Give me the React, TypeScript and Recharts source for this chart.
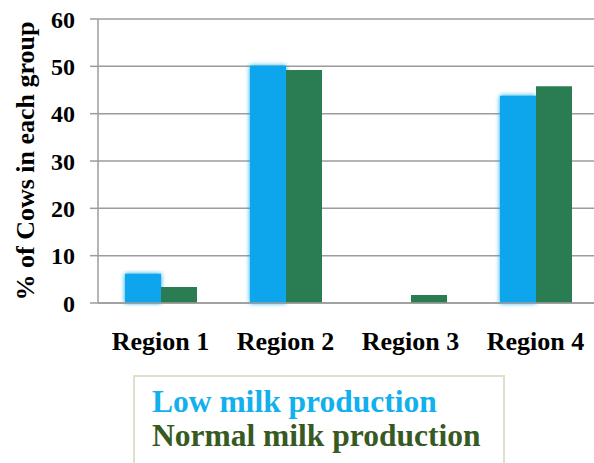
import { BarChart, Bar, XAxis, YAxis, CartesianGrid, Legend } from 'recharts'

const regions = ['Region 1', 'Region 2', 'Region 3', 'Region 4']
const lowMilk = [6.2, 50.1, 0, 43.8]
const normalMilk = [3.4, 49.2, 1.7, 45.8]
const yTicks = [0, 10, 20, 30, 40, 50, 60]

const seriesNames = ['Low milk production', 'Normal milk production']
const barColors = ['#08a6ec', '#2a7d52']
const legendColors = ['#12b0ec', '#365a22']

const serif = '"Liberation Serif", "Times New Roman", serif'
const gridColor = '#9c9c9c'

const LegendBox = () => (
  <div
    style={{
      width: 372,
      height: 100,
      boxSizing: 'border-box',
      border: '2px solid #e2dfcd',
      padding: '8px 0 0 17px',
      textAlign: 'left',
      fontFamily: serif,
      fontWeight: 'bold',
      fontSize: 31.5,
      lineHeight: '34px',
      background: '#fff',
    }}
  >
    {seriesNames.map((name, i) => (
      <div key={name} style={{ color: legendColors[i] }}>
        {name}
      </div>
    ))}
  </div>
)

export default function App() {
  const data = regions.map((region, i) => ({
    region,
    low: lowMilk[i],
    normal: normalMilk[i],
  }))

  return (
    <div style={{ position: 'absolute', left: 0, top: 0, width: 594, height: 463, overflow: 'hidden', background: '#fff' }}>
      <BarChart
        width={604}
        height={463}
        data={data}
        margin={{ top: 19, right: 6, left: 0, bottom: 110 }}
        barGap={0}
        barSize={36}
      >
        <defs>
          <filter id="glow" x="-30%" y="-10%" width="160%" height="120%">
            <feGaussianBlur in="SourceGraphic" stdDeviation="2.5" result="blur" />
            <feMerge>
              <feMergeNode in="blur" />
              <feMergeNode in="SourceGraphic" />
            </feMerge>
          </filter>
        </defs>
        <CartesianGrid vertical={false} stroke={gridColor} strokeWidth={1.5} />
        <XAxis
          dataKey="region"
          height={50}
          axisLine={{ stroke: gridColor, strokeWidth: 1.5 }}
          tickLine={false}
          tickSize={0}
          tickMargin={29}
          tick={{ fill: '#000', fontSize: 26, fontWeight: 'bold', fontFamily: serif }}
          interval={0}
        />
        <YAxis
          width={98}
          domain={[0, 60]}
          ticks={yTicks}
          interval={0}
          axisLine={{ stroke: gridColor, strokeWidth: 1.5 }}
          tickLine={{ stroke: gridColor, strokeWidth: 1.5 }}
          tickSize={8}
          tickMargin={15}
          tick={{ fill: '#000', fontSize: 24, fontWeight: 'bold', fontFamily: serif }}
          label={{
            value: '% of Cows in each group',
            angle: -90,
            position: 'insideLeft',
            offset: 25,
            style: { textAnchor: 'middle', fill: '#000', fontSize: 26, fontWeight: 'bold', fontFamily: serif },
          }}
        />
        <Legend
          layout="vertical"
          align="center"
          verticalAlign="middle"
          wrapperStyle={{ left: 133, top: 375, width: 372 }}
          content={<LegendBox />}
        />
        <Bar dataKey="low" name={seriesNames[0]} fill={barColors[0]} filter="url(#glow)" isAnimationActive={false} />
        <Bar dataKey="normal" name={seriesNames[1]} fill={barColors[1]} isAnimationActive={false} />
      </BarChart>
    </div>
  )
}
